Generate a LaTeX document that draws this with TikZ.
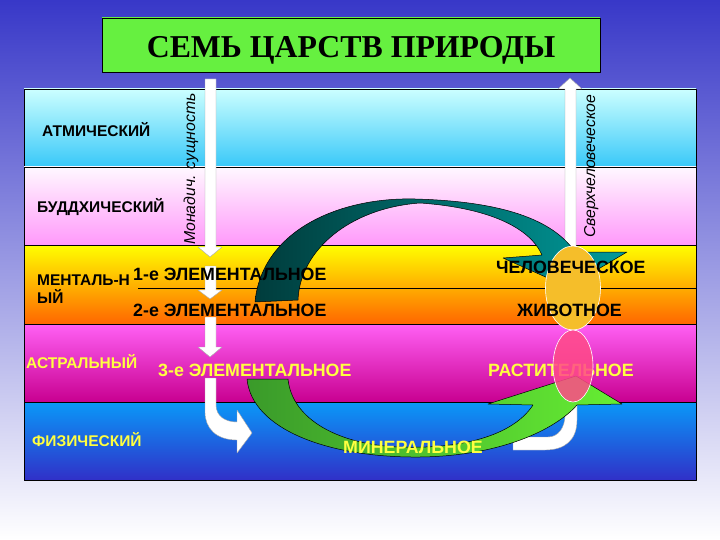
\documentclass[tikz,border=0pt]{standalone}
\usepackage{fontspec}
\setmainfont{Liberation Sans}
\newfontfamily\titlefont{Liberation Serif}
\definecolor{bgtop}{HTML}{3838C8}
\definecolor{tgreen}{HTML}{66F040}
\definecolor{atmtop}{HTML}{CCFFFF}
\definecolor{atmbot}{HTML}{38C8F8}
\definecolor{budtop}{HTML}{FFF8FF}
\definecolor{budbot}{HTML}{FF99FA}
\definecolor{menttop}{HTML}{FFFF00}
\definecolor{mentbot}{HTML}{FF6600}
\definecolor{astrtop}{HTML}{FF60F4}
\definecolor{astrbot}{HTML}{C80090}
\definecolor{phystop}{HTML}{0A98F8}
\definecolor{physbot}{HTML}{3030C8}
\definecolor{ytext}{HTML}{FFFF40}
\definecolor{tealdark}{HTML}{003C3C}
\definecolor{tealbright}{HTML}{22FFFF}
\definecolor{tealmid}{HTML}{009A9A}
\definecolor{gleft}{HTML}{3A9A2A}
\definecolor{gdark}{HTML}{1E5E1E}
\definecolor{gright}{HTML}{66EE33}
\definecolor{yell}{HTML}{F5BE2A}
\definecolor{pinkell}{HTML}{FF4A88}
\begin{document}
\begin{tikzpicture}[x=1pt,y=-1pt,line join=round]
\tikzset{
  band/.style={draw=black,line width=0.8pt},
  warrow/.style={fill=white,draw=black!35,line width=0.4pt},
  bigarrow/.style={draw=black,line width=0.5pt},
  lbl/.style={inner sep=0pt,anchor=base west,font=\fontsize{15.5}{18}\selectfont\bfseries},
  big/.style={inner sep=0pt,anchor=base west,font=\fontsize{17.8}{20}\selectfont\bfseries},
  vert/.style={inner sep=0pt,anchor=base west,rotate=90,font=\fontsize{15.8}{18}\selectfont\itshape}
}
\useasboundingbox (0,0) rectangle (720,540);
\shade[top color=bgtop,bottom color=white] (0,0) rectangle (720,540);
% title
\path[draw=black,line width=0.6pt,left color=tgreen,middle color=white,right color=tgreen] (102,18) rectangle (600,72);
\node[inner sep=0pt,anchor=base,font=\titlefont\fontsize{31.8}{34}\selectfont\bfseries] (title) at (351,58) {СЕМЬ ЦАРСТВ ПРИРОДЫ};
% bands
\path[band,top color=atmtop,bottom color=atmbot] (24,89) rectangle (696,167);
\path[band,top color=budtop,bottom color=budbot] (24,167) rectangle (696,245);
\path[band,top color=menttop,bottom color=mentbot] (24,245) rectangle (696,324);
\path[band,top color=astrtop,bottom color=astrbot] (24,324) rectangle (696,402);
\path[band,top color=phystop,bottom color=physbot] (24,402) rectangle (696,480);
\coordinate (ml) at (138,288);
\coordinate (mr) at (696,288);
\draw[line width=0.6pt] (ml) -- (mr);
% left labels
\node[lbl] (atm) at (42,137) {АТМИЧЕСКИЙ};
\node[lbl] (bud) at (37,212) {БУДДХИЧЕСКИЙ};
\node[lbl] (ment1) at (37,285) {МЕНТАЛЬ-Н};
\node[lbl] (ment2) at (37,303) {ЫЙ};
\node[lbl,text=ytext] (astr) at (26,368) {АСТРАЛЬНЫЙ};
\node[lbl,text=ytext] (phys) at (32,446) {ФИЗИЧЕСКИЙ};
% white arrows
\path[warrow] (205,79) -- (216,79) -- (216,247) -- (222,247) -- (210,257) -- (198,247) -- (205,247) -- cycle;
\path[warrow] (205,266) -- (216,266) -- (216,290) -- (222,290) -- (210,299) -- (198,290) -- (205,290) -- cycle;
\path[warrow] (205,317) -- (216,317) -- (216,347) -- (222,347) -- (210,357) -- (198,347) -- (205,347) -- cycle;
\path[warrow] (205,378) -- (216,378) -- (216,405) .. controls (216,416) and (225,422) .. (237,422) -- (237,410) -- (252,433) -- (237,453) -- (237,440) .. controls (216,440) and (205,428) .. (205,412) -- cycle;
\path[warrow] (565,255) -- (565,89) -- (558,89) -- (570,78) -- (582,89) -- (576,89) -- (576,255) -- cycle;
\node[vert] (monad) at (195,245) {Монадич. сущность};
\node[vert] (sverh) at (595,238) {Сверхчеловеческое};
% teal arrow
\path[bigarrow,left color=tealdark,middle color=tealbright,right color=tealmid]
 (255,302) .. controls (262,230) and (340,197) .. (415,199)
 .. controls (490,201) and (550,215) .. (575,252) -- (627,252) -- (568,287) -- (503,258) -- (542,255)
 .. controls (530,228) and (490,208) .. (420,203)
 .. controls (350,208) and (300,250) .. (298,300) -- cycle;
% white hook right
\path[warrow] (577,403) -- (577,420) .. controls (577,440) and (565,450) .. (545,450) -- (513,450) -- (513,437) -- (548,437) .. controls (558,437) and (565,428) .. (565,415) -- (565,403) -- cycle;
% green arrow
\path[bigarrow,left color=gleft,middle color=gdark,right color=gright]
 (247,379) .. controls (252,430) and (330,458) .. (420,457)
 .. controls (500,456) and (555,430) .. (577,405) -- (622,404) -- (576,376) -- (488,404) -- (533,405)
 .. controls (510,440) and (450,449) .. (400,447)
 .. controls (340,445) and (292,420) .. (288,379) -- cycle;
% yellow ellipse
\path[draw=white,line width=0.6pt,left color=yell,middle color=white,right color=yell] (573,288) ellipse [x radius=27.5,y radius=42];
% centre texts
\node[big] (el1) at (133,280) {1-е ЭЛЕМЕНТАЛЬНОЕ};
\node[big] (el2) at (133,316) {2-е ЭЛЕМЕНТАЛЬНОЕ};
\node[big,text=ytext] (el3) at (158,376) {3-е ЭЛЕМЕНТАЛЬНОЕ};
\node[big] (hum) at (496,273) {ЧЕЛОВЕЧЕСКОЕ};
\node[big] (anim) at (517,316) {ЖИВОТНОЕ};
\node[big,text=ytext] (plant) at (488,376) {РАСТИТЕЛЬНОЕ};
\node[big,text=ytext] (mineral) at (343,453) {МИНЕРАЛЬНОЕ};
% pink ellipse
\path[draw=white,line width=0.6pt,fill opacity=0.85,left color=pinkell,middle color=white,right color=pinkell] (573,366) ellipse [x radius=20,y radius=36];
\end{tikzpicture}
\end{document}
